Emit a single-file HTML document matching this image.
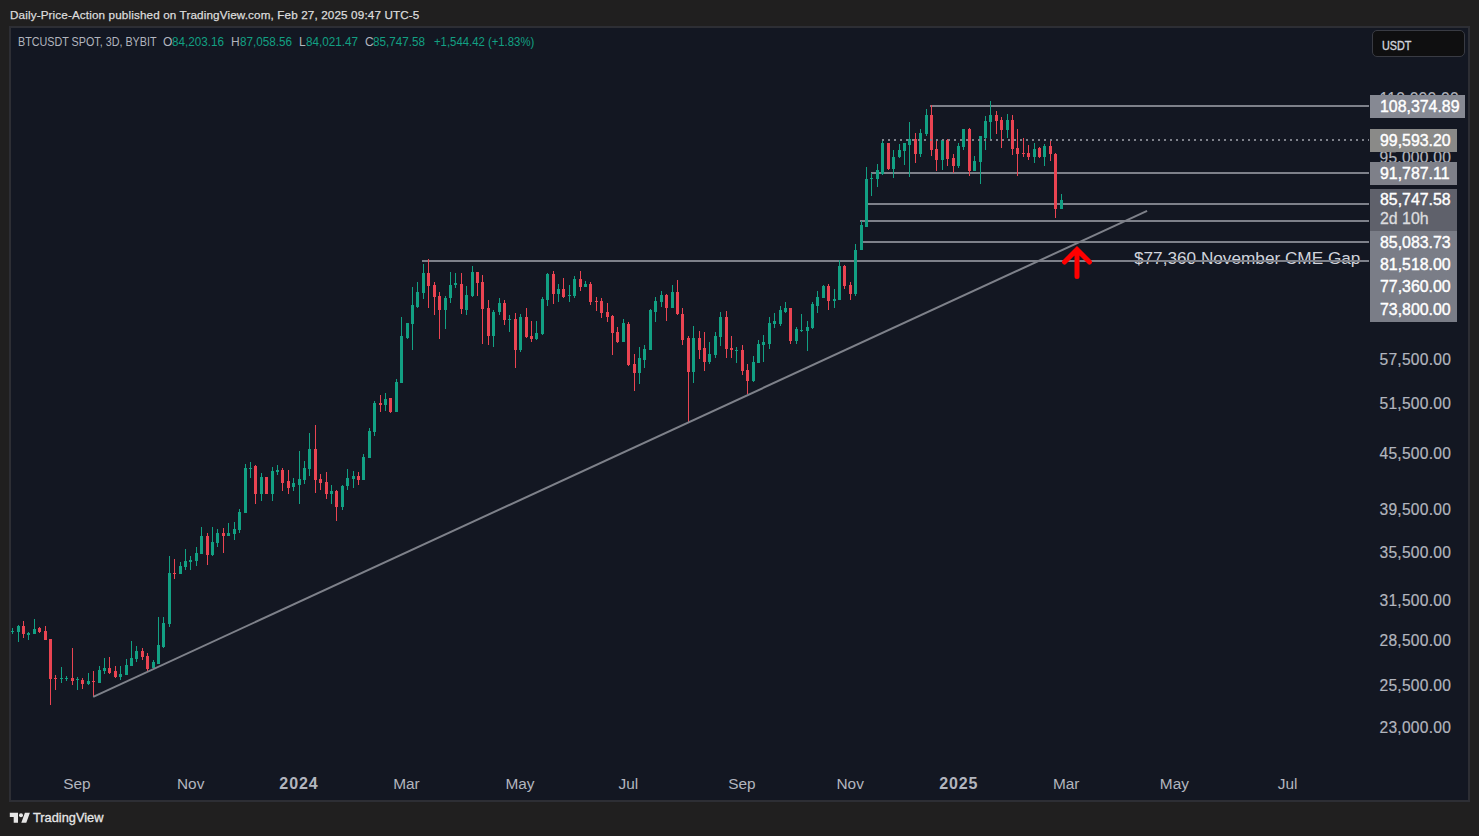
<!DOCTYPE html>
<html><head><meta charset="utf-8"><style>
html,body{margin:0;padding:0;width:1479px;height:836px;overflow:hidden;background:#201f1f;}
body{position:relative;font-family:"Liberation Sans",sans-serif;}
.abs{position:absolute;white-space:pre;}
#title{left:10px;top:7px;font-size:11.7px;letter-spacing:0.13px;color:#dcdcdc;line-height:16px;-webkit-text-stroke:0.25px #dcdcdc;}
.sym{position:absolute;top:35px;font-size:12px;line-height:14px;color:#b2b5be;white-space:pre;}
.sg{color:#12a083;}
.yl{position:absolute;left:1379.5px;font-size:15.6px;letter-spacing:0.25px;line-height:18px;color:#b2b5be;-webkit-text-stroke:0.2px #b2b5be;white-space:pre;}
.tl{position:absolute;top:775px;width:80px;text-align:center;font-size:15.4px;line-height:18px;color:#b2b5be;}
.tl.b{font-weight:bold;font-size:16px;letter-spacing:0.9px;text-indent:0.9px;}
.pl{position:absolute;left:1370px;width:87px;}
.plt{position:absolute;left:1380px;font-size:15.9px;line-height:18px;color:#fff;-webkit-text-stroke:0.4px #fff;white-space:pre;}
</style></head><body>
<svg class="abs" style="left:0;top:0" width="1479" height="836" viewBox="0 0 1479 836">
<rect x="9" y="26" width="1461" height="776" fill="#2d2e34"/>
<rect x="11" y="28" width="1457" height="772" fill="#131722"/>
<rect x="930" y="105" width="439" height="2" fill="#7e818a"/>
<rect x="871" y="172" width="498" height="2" fill="#7e818a"/>
<rect x="868" y="203" width="501" height="2" fill="#7e818a"/>
<rect x="860" y="220" width="509" height="2" fill="#7e818a"/>
<rect x="862" y="241" width="507" height="2" fill="#7e818a"/>
<rect x="422" y="260" width="947" height="2" fill="#7e818a"/>
<rect x="12" y="628" width="1" height="6" fill="#12a083"/>
<rect x="11" y="631" width="3" height="1" fill="#12a083"/>
<rect x="18" y="625" width="1" height="17" fill="#12a083"/>
<rect x="17" y="626" width="3" height="6" fill="#12a083"/>
<rect x="23" y="621" width="1" height="17" fill="#ea4452"/>
<rect x="22" y="626" width="3" height="8" fill="#ea4452"/>
<rect x="28" y="632" width="1" height="8" fill="#12a083"/>
<rect x="27" y="633" width="3" height="2" fill="#12a083"/>
<rect x="34" y="619" width="1" height="15" fill="#12a083"/>
<rect x="33" y="629" width="3" height="5" fill="#12a083"/>
<rect x="39" y="627" width="1" height="6" fill="#ea4452"/>
<rect x="38" y="628" width="3" height="4" fill="#ea4452"/>
<rect x="45" y="626" width="1" height="14" fill="#ea4452"/>
<rect x="44" y="631" width="3" height="9" fill="#ea4452"/>
<rect x="50" y="639" width="1" height="66" fill="#ea4452"/>
<rect x="49" y="639" width="3" height="40" fill="#ea4452"/>
<rect x="55" y="675" width="1" height="15" fill="#ea4452"/>
<rect x="54" y="678" width="3" height="1" fill="#ea4452"/>
<rect x="61" y="667" width="1" height="16" fill="#12a083"/>
<rect x="60" y="678" width="3" height="1" fill="#12a083"/>
<rect x="66" y="676" width="1" height="5" fill="#12a083"/>
<rect x="65" y="678" width="3" height="1" fill="#12a083"/>
<rect x="72" y="648" width="1" height="37" fill="#ea4452"/>
<rect x="71" y="678" width="3" height="3" fill="#ea4452"/>
<rect x="77" y="677" width="1" height="13" fill="#12a083"/>
<rect x="76" y="679" width="3" height="1" fill="#12a083"/>
<rect x="82" y="678" width="1" height="11" fill="#ea4452"/>
<rect x="81" y="680" width="3" height="4" fill="#ea4452"/>
<rect x="88" y="673" width="1" height="12" fill="#12a083"/>
<rect x="87" y="681" width="3" height="3" fill="#12a083"/>
<rect x="93" y="671" width="1" height="26" fill="#ea4452"/>
<rect x="92" y="681" width="3" height="1" fill="#ea4452"/>
<rect x="99" y="666" width="1" height="17" fill="#12a083"/>
<rect x="98" y="670" width="3" height="13" fill="#12a083"/>
<rect x="104" y="658" width="1" height="16" fill="#12a083"/>
<rect x="103" y="668" width="3" height="3" fill="#12a083"/>
<rect x="109" y="657" width="1" height="17" fill="#ea4452"/>
<rect x="108" y="668" width="3" height="5" fill="#ea4452"/>
<rect x="115" y="666" width="1" height="12" fill="#ea4452"/>
<rect x="114" y="671" width="3" height="6" fill="#ea4452"/>
<rect x="120" y="666" width="1" height="14" fill="#12a083"/>
<rect x="119" y="674" width="3" height="3" fill="#12a083"/>
<rect x="126" y="659" width="1" height="16" fill="#12a083"/>
<rect x="125" y="665" width="3" height="10" fill="#12a083"/>
<rect x="131" y="641" width="1" height="25" fill="#12a083"/>
<rect x="130" y="658" width="3" height="8" fill="#12a083"/>
<rect x="136" y="646" width="1" height="16" fill="#12a083"/>
<rect x="135" y="651" width="3" height="8" fill="#12a083"/>
<rect x="142" y="648" width="1" height="12" fill="#ea4452"/>
<rect x="141" y="651" width="3" height="6" fill="#ea4452"/>
<rect x="147" y="653" width="1" height="18" fill="#ea4452"/>
<rect x="146" y="656" width="3" height="13" fill="#ea4452"/>
<rect x="153" y="660" width="1" height="8" fill="#12a083"/>
<rect x="152" y="662" width="3" height="6" fill="#12a083"/>
<rect x="158" y="617" width="1" height="47" fill="#12a083"/>
<rect x="157" y="645" width="3" height="19" fill="#12a083"/>
<rect x="163" y="617" width="1" height="31" fill="#12a083"/>
<rect x="162" y="623" width="3" height="24" fill="#12a083"/>
<rect x="169" y="556" width="1" height="71" fill="#12a083"/>
<rect x="168" y="573" width="3" height="51" fill="#12a083"/>
<rect x="174" y="559" width="1" height="20" fill="#ea4452"/>
<rect x="173" y="573" width="3" height="1" fill="#ea4452"/>
<rect x="180" y="562" width="1" height="12" fill="#12a083"/>
<rect x="179" y="566" width="3" height="8" fill="#12a083"/>
<rect x="185" y="549" width="1" height="21" fill="#12a083"/>
<rect x="184" y="561" width="3" height="6" fill="#12a083"/>
<rect x="190" y="556" width="1" height="14" fill="#12a083"/>
<rect x="189" y="560" width="3" height="2" fill="#12a083"/>
<rect x="196" y="547" width="1" height="19" fill="#12a083"/>
<rect x="195" y="553" width="3" height="8" fill="#12a083"/>
<rect x="201" y="527" width="1" height="27" fill="#12a083"/>
<rect x="200" y="536" width="3" height="18" fill="#12a083"/>
<rect x="207" y="533" width="1" height="32" fill="#ea4452"/>
<rect x="206" y="536" width="3" height="19" fill="#ea4452"/>
<rect x="212" y="527" width="1" height="29" fill="#12a083"/>
<rect x="211" y="542" width="3" height="13" fill="#12a083"/>
<rect x="217" y="529" width="1" height="18" fill="#12a083"/>
<rect x="216" y="533" width="3" height="10" fill="#12a083"/>
<rect x="223" y="528" width="1" height="25" fill="#ea4452"/>
<rect x="222" y="533" width="3" height="3" fill="#ea4452"/>
<rect x="228" y="523" width="1" height="13" fill="#12a083"/>
<rect x="227" y="533" width="3" height="3" fill="#12a083"/>
<rect x="234" y="522" width="1" height="18" fill="#12a083"/>
<rect x="233" y="529" width="3" height="5" fill="#12a083"/>
<rect x="239" y="509" width="1" height="24" fill="#12a083"/>
<rect x="238" y="512" width="3" height="18" fill="#12a083"/>
<rect x="245" y="464" width="1" height="49" fill="#12a083"/>
<rect x="244" y="468" width="3" height="45" fill="#12a083"/>
<rect x="250" y="462" width="1" height="16" fill="#12a083"/>
<rect x="249" y="468" width="3" height="1" fill="#12a083"/>
<rect x="255" y="465" width="1" height="39" fill="#ea4452"/>
<rect x="254" y="466" width="3" height="28" fill="#ea4452"/>
<rect x="261" y="473" width="1" height="28" fill="#12a083"/>
<rect x="260" y="477" width="3" height="17" fill="#12a083"/>
<rect x="266" y="477" width="1" height="17" fill="#ea4452"/>
<rect x="265" y="477" width="3" height="17" fill="#ea4452"/>
<rect x="272" y="467" width="1" height="34" fill="#12a083"/>
<rect x="271" y="471" width="3" height="23" fill="#12a083"/>
<rect x="277" y="465" width="1" height="10" fill="#12a083"/>
<rect x="276" y="470" width="3" height="2" fill="#12a083"/>
<rect x="282" y="468" width="1" height="23" fill="#ea4452"/>
<rect x="281" y="470" width="3" height="13" fill="#ea4452"/>
<rect x="288" y="470" width="1" height="24" fill="#ea4452"/>
<rect x="287" y="481" width="3" height="7" fill="#ea4452"/>
<rect x="293" y="478" width="1" height="13" fill="#12a083"/>
<rect x="292" y="483" width="3" height="4" fill="#12a083"/>
<rect x="299" y="451" width="1" height="53" fill="#12a083"/>
<rect x="298" y="479" width="3" height="6" fill="#12a083"/>
<rect x="304" y="461" width="1" height="23" fill="#12a083"/>
<rect x="303" y="468" width="3" height="12" fill="#12a083"/>
<rect x="309" y="433" width="1" height="43" fill="#12a083"/>
<rect x="308" y="449" width="3" height="20" fill="#12a083"/>
<rect x="315" y="425" width="1" height="68" fill="#ea4452"/>
<rect x="314" y="449" width="3" height="31" fill="#ea4452"/>
<rect x="320" y="474" width="1" height="16" fill="#ea4452"/>
<rect x="319" y="479" width="3" height="4" fill="#ea4452"/>
<rect x="326" y="472" width="1" height="27" fill="#ea4452"/>
<rect x="325" y="482" width="3" height="12" fill="#ea4452"/>
<rect x="331" y="485" width="1" height="19" fill="#12a083"/>
<rect x="330" y="491" width="3" height="3" fill="#12a083"/>
<rect x="336" y="490" width="1" height="31" fill="#ea4452"/>
<rect x="335" y="491" width="3" height="16" fill="#ea4452"/>
<rect x="342" y="485" width="1" height="25" fill="#12a083"/>
<rect x="341" y="486" width="3" height="21" fill="#12a083"/>
<rect x="347" y="469" width="1" height="21" fill="#12a083"/>
<rect x="346" y="478" width="3" height="8" fill="#12a083"/>
<rect x="353" y="471" width="1" height="17" fill="#12a083"/>
<rect x="352" y="476" width="3" height="3" fill="#12a083"/>
<rect x="358" y="472" width="1" height="13" fill="#ea4452"/>
<rect x="357" y="476" width="3" height="4" fill="#ea4452"/>
<rect x="363" y="454" width="1" height="26" fill="#12a083"/>
<rect x="362" y="457" width="3" height="23" fill="#12a083"/>
<rect x="369" y="428" width="1" height="30" fill="#12a083"/>
<rect x="368" y="431" width="3" height="27" fill="#12a083"/>
<rect x="374" y="401" width="1" height="35" fill="#12a083"/>
<rect x="373" y="403" width="3" height="29" fill="#12a083"/>
<rect x="380" y="395" width="1" height="17" fill="#ea4452"/>
<rect x="379" y="403" width="3" height="2" fill="#ea4452"/>
<rect x="385" y="393" width="1" height="18" fill="#12a083"/>
<rect x="384" y="399" width="3" height="6" fill="#12a083"/>
<rect x="390" y="398" width="1" height="15" fill="#ea4452"/>
<rect x="389" y="398" width="3" height="14" fill="#ea4452"/>
<rect x="396" y="379" width="1" height="33" fill="#12a083"/>
<rect x="395" y="382" width="3" height="30" fill="#12a083"/>
<rect x="401" y="317" width="1" height="66" fill="#12a083"/>
<rect x="400" y="336" width="3" height="47" fill="#12a083"/>
<rect x="407" y="323" width="1" height="16" fill="#12a083"/>
<rect x="406" y="323" width="3" height="15" fill="#12a083"/>
<rect x="412" y="287" width="1" height="63" fill="#12a083"/>
<rect x="411" y="305" width="3" height="19" fill="#12a083"/>
<rect x="417" y="282" width="1" height="26" fill="#12a083"/>
<rect x="416" y="292" width="3" height="15" fill="#12a083"/>
<rect x="423" y="264" width="1" height="35" fill="#12a083"/>
<rect x="422" y="273" width="3" height="20" fill="#12a083"/>
<rect x="428" y="259" width="1" height="49" fill="#ea4452"/>
<rect x="427" y="273" width="3" height="13" fill="#ea4452"/>
<rect x="434" y="282" width="1" height="33" fill="#ea4452"/>
<rect x="433" y="285" width="3" height="12" fill="#ea4452"/>
<rect x="439" y="292" width="1" height="47" fill="#ea4452"/>
<rect x="438" y="296" width="3" height="14" fill="#ea4452"/>
<rect x="445" y="296" width="1" height="33" fill="#12a083"/>
<rect x="444" y="298" width="3" height="12" fill="#12a083"/>
<rect x="450" y="272" width="1" height="31" fill="#12a083"/>
<rect x="449" y="285" width="3" height="13" fill="#12a083"/>
<rect x="455" y="273" width="1" height="15" fill="#12a083"/>
<rect x="454" y="283" width="3" height="2" fill="#12a083"/>
<rect x="461" y="273" width="1" height="41" fill="#ea4452"/>
<rect x="460" y="284" width="3" height="25" fill="#ea4452"/>
<rect x="466" y="286" width="1" height="29" fill="#12a083"/>
<rect x="465" y="295" width="3" height="15" fill="#12a083"/>
<rect x="472" y="266" width="1" height="31" fill="#12a083"/>
<rect x="471" y="272" width="3" height="24" fill="#12a083"/>
<rect x="477" y="272" width="1" height="24" fill="#ea4452"/>
<rect x="476" y="272" width="3" height="11" fill="#ea4452"/>
<rect x="482" y="275" width="1" height="69" fill="#ea4452"/>
<rect x="481" y="282" width="3" height="27" fill="#ea4452"/>
<rect x="488" y="300" width="1" height="45" fill="#ea4452"/>
<rect x="487" y="308" width="3" height="28" fill="#ea4452"/>
<rect x="493" y="310" width="1" height="37" fill="#12a083"/>
<rect x="492" y="312" width="3" height="24" fill="#12a083"/>
<rect x="499" y="298" width="1" height="17" fill="#12a083"/>
<rect x="498" y="303" width="3" height="9" fill="#12a083"/>
<rect x="504" y="300" width="1" height="25" fill="#ea4452"/>
<rect x="503" y="303" width="3" height="17" fill="#ea4452"/>
<rect x="509" y="315" width="1" height="17" fill="#12a083"/>
<rect x="508" y="319" width="3" height="1" fill="#12a083"/>
<rect x="515" y="313" width="1" height="55" fill="#ea4452"/>
<rect x="514" y="319" width="3" height="31" fill="#ea4452"/>
<rect x="520" y="314" width="1" height="38" fill="#12a083"/>
<rect x="519" y="317" width="3" height="33" fill="#12a083"/>
<rect x="526" y="308" width="1" height="30" fill="#ea4452"/>
<rect x="525" y="317" width="3" height="20" fill="#ea4452"/>
<rect x="531" y="321" width="1" height="21" fill="#ea4452"/>
<rect x="530" y="336" width="3" height="3" fill="#ea4452"/>
<rect x="536" y="321" width="1" height="19" fill="#12a083"/>
<rect x="535" y="333" width="3" height="6" fill="#12a083"/>
<rect x="542" y="297" width="1" height="38" fill="#12a083"/>
<rect x="541" y="299" width="3" height="35" fill="#12a083"/>
<rect x="547" y="273" width="1" height="33" fill="#12a083"/>
<rect x="546" y="274" width="3" height="26" fill="#12a083"/>
<rect x="553" y="271" width="1" height="33" fill="#ea4452"/>
<rect x="552" y="274" width="3" height="20" fill="#ea4452"/>
<rect x="558" y="284" width="1" height="18" fill="#12a083"/>
<rect x="557" y="289" width="3" height="5" fill="#12a083"/>
<rect x="563" y="278" width="1" height="20" fill="#ea4452"/>
<rect x="562" y="289" width="3" height="8" fill="#ea4452"/>
<rect x="569" y="285" width="1" height="17" fill="#12a083"/>
<rect x="568" y="295" width="3" height="1" fill="#12a083"/>
<rect x="574" y="276" width="1" height="22" fill="#12a083"/>
<rect x="573" y="279" width="3" height="17" fill="#12a083"/>
<rect x="580" y="271" width="1" height="20" fill="#ea4452"/>
<rect x="579" y="279" width="3" height="8" fill="#ea4452"/>
<rect x="585" y="281" width="1" height="6" fill="#12a083"/>
<rect x="584" y="284" width="3" height="3" fill="#12a083"/>
<rect x="590" y="282" width="1" height="23" fill="#ea4452"/>
<rect x="589" y="284" width="3" height="18" fill="#ea4452"/>
<rect x="596" y="297" width="1" height="14" fill="#ea4452"/>
<rect x="595" y="301" width="3" height="1" fill="#ea4452"/>
<rect x="601" y="298" width="1" height="20" fill="#ea4452"/>
<rect x="600" y="301" width="3" height="12" fill="#ea4452"/>
<rect x="607" y="303" width="1" height="19" fill="#ea4452"/>
<rect x="606" y="312" width="3" height="5" fill="#ea4452"/>
<rect x="612" y="315" width="1" height="40" fill="#ea4452"/>
<rect x="611" y="316" width="3" height="17" fill="#ea4452"/>
<rect x="617" y="327" width="1" height="16" fill="#ea4452"/>
<rect x="616" y="332" width="3" height="10" fill="#ea4452"/>
<rect x="623" y="319" width="1" height="23" fill="#12a083"/>
<rect x="622" y="323" width="3" height="19" fill="#12a083"/>
<rect x="628" y="322" width="1" height="44" fill="#ea4452"/>
<rect x="627" y="324" width="3" height="41" fill="#ea4452"/>
<rect x="634" y="354" width="1" height="37" fill="#ea4452"/>
<rect x="633" y="364" width="3" height="9" fill="#ea4452"/>
<rect x="639" y="347" width="1" height="37" fill="#12a083"/>
<rect x="638" y="358" width="3" height="15" fill="#12a083"/>
<rect x="644" y="345" width="1" height="23" fill="#12a083"/>
<rect x="643" y="349" width="3" height="11" fill="#12a083"/>
<rect x="650" y="309" width="1" height="41" fill="#12a083"/>
<rect x="649" y="310" width="3" height="40" fill="#12a083"/>
<rect x="655" y="297" width="1" height="25" fill="#12a083"/>
<rect x="654" y="301" width="3" height="11" fill="#12a083"/>
<rect x="661" y="291" width="1" height="16" fill="#12a083"/>
<rect x="660" y="295" width="3" height="7" fill="#12a083"/>
<rect x="666" y="294" width="1" height="27" fill="#ea4452"/>
<rect x="665" y="295" width="3" height="13" fill="#ea4452"/>
<rect x="672" y="285" width="1" height="23" fill="#12a083"/>
<rect x="671" y="292" width="3" height="16" fill="#12a083"/>
<rect x="677" y="280" width="1" height="35" fill="#ea4452"/>
<rect x="676" y="292" width="3" height="22" fill="#ea4452"/>
<rect x="682" y="308" width="1" height="37" fill="#ea4452"/>
<rect x="681" y="314" width="3" height="26" fill="#ea4452"/>
<rect x="688" y="336" width="1" height="87" fill="#ea4452"/>
<rect x="687" y="338" width="3" height="34" fill="#ea4452"/>
<rect x="693" y="326" width="1" height="57" fill="#12a083"/>
<rect x="692" y="338" width="3" height="34" fill="#12a083"/>
<rect x="699" y="331" width="1" height="28" fill="#ea4452"/>
<rect x="698" y="338" width="3" height="12" fill="#ea4452"/>
<rect x="704" y="332" width="1" height="39" fill="#ea4452"/>
<rect x="703" y="348" width="3" height="14" fill="#ea4452"/>
<rect x="709" y="342" width="1" height="22" fill="#12a083"/>
<rect x="708" y="354" width="3" height="8" fill="#12a083"/>
<rect x="715" y="332" width="1" height="26" fill="#12a083"/>
<rect x="714" y="336" width="3" height="19" fill="#12a083"/>
<rect x="720" y="312" width="1" height="34" fill="#12a083"/>
<rect x="719" y="317" width="3" height="20" fill="#12a083"/>
<rect x="726" y="311" width="1" height="47" fill="#ea4452"/>
<rect x="725" y="317" width="3" height="32" fill="#ea4452"/>
<rect x="731" y="336" width="1" height="22" fill="#ea4452"/>
<rect x="730" y="348" width="3" height="2" fill="#ea4452"/>
<rect x="736" y="347" width="1" height="16" fill="#12a083"/>
<rect x="735" y="350" width="3" height="1" fill="#12a083"/>
<rect x="742" y="345" width="1" height="30" fill="#ea4452"/>
<rect x="741" y="350" width="3" height="21" fill="#ea4452"/>
<rect x="747" y="364" width="1" height="30" fill="#ea4452"/>
<rect x="746" y="370" width="3" height="11" fill="#ea4452"/>
<rect x="753" y="356" width="1" height="26" fill="#12a083"/>
<rect x="752" y="362" width="3" height="19" fill="#12a083"/>
<rect x="758" y="340" width="1" height="23" fill="#12a083"/>
<rect x="757" y="344" width="3" height="19" fill="#12a083"/>
<rect x="763" y="335" width="1" height="27" fill="#12a083"/>
<rect x="762" y="342" width="3" height="3" fill="#12a083"/>
<rect x="769" y="317" width="1" height="32" fill="#12a083"/>
<rect x="768" y="323" width="3" height="21" fill="#12a083"/>
<rect x="774" y="313" width="1" height="15" fill="#12a083"/>
<rect x="773" y="321" width="3" height="3" fill="#12a083"/>
<rect x="780" y="306" width="1" height="20" fill="#12a083"/>
<rect x="779" y="310" width="3" height="14" fill="#12a083"/>
<rect x="785" y="302" width="1" height="11" fill="#12a083"/>
<rect x="784" y="308" width="3" height="4" fill="#12a083"/>
<rect x="790" y="308" width="1" height="36" fill="#ea4452"/>
<rect x="789" y="308" width="3" height="33" fill="#ea4452"/>
<rect x="796" y="327" width="1" height="17" fill="#12a083"/>
<rect x="795" y="329" width="3" height="12" fill="#12a083"/>
<rect x="801" y="314" width="1" height="18" fill="#12a083"/>
<rect x="800" y="330" width="3" height="1" fill="#12a083"/>
<rect x="807" y="321" width="1" height="30" fill="#12a083"/>
<rect x="806" y="327" width="3" height="4" fill="#12a083"/>
<rect x="812" y="302" width="1" height="27" fill="#12a083"/>
<rect x="811" y="304" width="3" height="24" fill="#12a083"/>
<rect x="817" y="291" width="1" height="22" fill="#12a083"/>
<rect x="816" y="297" width="3" height="9" fill="#12a083"/>
<rect x="823" y="285" width="1" height="13" fill="#12a083"/>
<rect x="822" y="286" width="3" height="12" fill="#12a083"/>
<rect x="828" y="284" width="1" height="26" fill="#ea4452"/>
<rect x="827" y="286" width="3" height="15" fill="#ea4452"/>
<rect x="834" y="289" width="1" height="19" fill="#12a083"/>
<rect x="833" y="299" width="3" height="2" fill="#12a083"/>
<rect x="839" y="260" width="1" height="40" fill="#12a083"/>
<rect x="838" y="266" width="3" height="34" fill="#12a083"/>
<rect x="844" y="265" width="1" height="24" fill="#ea4452"/>
<rect x="843" y="266" width="3" height="20" fill="#ea4452"/>
<rect x="850" y="282" width="1" height="18" fill="#ea4452"/>
<rect x="849" y="285" width="3" height="9" fill="#ea4452"/>
<rect x="855" y="244" width="1" height="52" fill="#12a083"/>
<rect x="854" y="250" width="3" height="44" fill="#12a083"/>
<rect x="861" y="221" width="1" height="29" fill="#12a083"/>
<rect x="860" y="225" width="3" height="25" fill="#12a083"/>
<rect x="866" y="167" width="1" height="60" fill="#12a083"/>
<rect x="865" y="179" width="3" height="48" fill="#12a083"/>
<rect x="871" y="173" width="1" height="23" fill="#12a083"/>
<rect x="870" y="178" width="3" height="1" fill="#12a083"/>
<rect x="877" y="164" width="1" height="23" fill="#12a083"/>
<rect x="876" y="170" width="3" height="9" fill="#12a083"/>
<rect x="882" y="140" width="1" height="35" fill="#12a083"/>
<rect x="881" y="143" width="3" height="31" fill="#12a083"/>
<rect x="888" y="143" width="1" height="27" fill="#ea4452"/>
<rect x="887" y="143" width="3" height="26" fill="#ea4452"/>
<rect x="893" y="150" width="1" height="28" fill="#12a083"/>
<rect x="892" y="157" width="3" height="12" fill="#12a083"/>
<rect x="899" y="144" width="1" height="14" fill="#12a083"/>
<rect x="898" y="150" width="3" height="7" fill="#12a083"/>
<rect x="904" y="143" width="1" height="22" fill="#12a083"/>
<rect x="903" y="143" width="3" height="8" fill="#12a083"/>
<rect x="909" y="122" width="1" height="55" fill="#12a083"/>
<rect x="908" y="139" width="3" height="6" fill="#12a083"/>
<rect x="915" y="133" width="1" height="30" fill="#ea4452"/>
<rect x="914" y="139" width="3" height="15" fill="#ea4452"/>
<rect x="920" y="129" width="1" height="28" fill="#12a083"/>
<rect x="919" y="133" width="3" height="21" fill="#12a083"/>
<rect x="926" y="109" width="1" height="27" fill="#12a083"/>
<rect x="925" y="115" width="3" height="19" fill="#12a083"/>
<rect x="931" y="105" width="1" height="51" fill="#ea4452"/>
<rect x="930" y="115" width="3" height="35" fill="#ea4452"/>
<rect x="936" y="140" width="1" height="31" fill="#ea4452"/>
<rect x="935" y="149" width="3" height="11" fill="#ea4452"/>
<rect x="942" y="139" width="1" height="31" fill="#12a083"/>
<rect x="941" y="140" width="3" height="20" fill="#12a083"/>
<rect x="947" y="139" width="1" height="27" fill="#ea4452"/>
<rect x="946" y="140" width="3" height="19" fill="#ea4452"/>
<rect x="953" y="154" width="1" height="19" fill="#ea4452"/>
<rect x="952" y="158" width="3" height="8" fill="#ea4452"/>
<rect x="958" y="143" width="1" height="25" fill="#12a083"/>
<rect x="957" y="146" width="3" height="20" fill="#12a083"/>
<rect x="963" y="129" width="1" height="21" fill="#12a083"/>
<rect x="962" y="129" width="3" height="18" fill="#12a083"/>
<rect x="969" y="128" width="1" height="48" fill="#ea4452"/>
<rect x="968" y="129" width="3" height="42" fill="#ea4452"/>
<rect x="974" y="156" width="1" height="15" fill="#12a083"/>
<rect x="973" y="161" width="3" height="10" fill="#12a083"/>
<rect x="980" y="136" width="1" height="48" fill="#12a083"/>
<rect x="979" y="136" width="3" height="26" fill="#12a083"/>
<rect x="985" y="116" width="1" height="34" fill="#12a083"/>
<rect x="984" y="121" width="3" height="17" fill="#12a083"/>
<rect x="990" y="101" width="1" height="39" fill="#12a083"/>
<rect x="989" y="115" width="3" height="7" fill="#12a083"/>
<rect x="996" y="111" width="1" height="23" fill="#ea4452"/>
<rect x="995" y="115" width="3" height="6" fill="#ea4452"/>
<rect x="1001" y="117" width="1" height="31" fill="#ea4452"/>
<rect x="1000" y="120" width="3" height="10" fill="#ea4452"/>
<rect x="1007" y="114" width="1" height="24" fill="#12a083"/>
<rect x="1006" y="120" width="3" height="10" fill="#12a083"/>
<rect x="1012" y="115" width="1" height="40" fill="#ea4452"/>
<rect x="1011" y="120" width="3" height="29" fill="#ea4452"/>
<rect x="1017" y="129" width="1" height="47" fill="#ea4452"/>
<rect x="1016" y="148" width="3" height="6" fill="#ea4452"/>
<rect x="1023" y="138" width="1" height="19" fill="#ea4452"/>
<rect x="1022" y="153" width="3" height="1" fill="#ea4452"/>
<rect x="1028" y="145" width="1" height="15" fill="#ea4452"/>
<rect x="1027" y="153" width="3" height="4" fill="#ea4452"/>
<rect x="1034" y="143" width="1" height="20" fill="#12a083"/>
<rect x="1033" y="149" width="3" height="8" fill="#12a083"/>
<rect x="1039" y="147" width="1" height="11" fill="#ea4452"/>
<rect x="1038" y="148" width="3" height="9" fill="#ea4452"/>
<rect x="1044" y="144" width="1" height="22" fill="#12a083"/>
<rect x="1043" y="146" width="3" height="11" fill="#12a083"/>
<rect x="1050" y="139" width="1" height="22" fill="#ea4452"/>
<rect x="1049" y="146" width="3" height="8" fill="#ea4452"/>
<rect x="1055" y="153" width="1" height="65" fill="#ea4452"/>
<rect x="1054" y="154" width="3" height="55" fill="#ea4452"/>
<rect x="1061" y="194" width="1" height="15" fill="#12a083"/>
<rect x="1060" y="200" width="3" height="9" fill="#12a083"/>
<line x1="882" y1="140" x2="1369" y2="140" stroke="#7e818a" stroke-width="2" stroke-dasharray="2 4"/>
<line x1="93.2" y1="696.8" x2="1147.1" y2="210.9" stroke="#7e818a" stroke-width="2"/>
<path d="M1064.5 262 L1077 249.5 L1089.5 262 M1077 251 L1077 276.5" stroke="#ff0000" stroke-width="5" fill="none" stroke-linecap="round" stroke-linejoin="miter"/>
</svg>
<div id="title" class="abs">Daily-Price-Action published on TradingView.com, Feb 27, 2025 09:47 UTC-5</div>
<div class="sym" style="left:18px;font-size:12.3px;transform:scaleX(0.875);transform-origin:0 0">BTCUSDT SPOT, 3D, BYBIT</div>
<div class="sym" style="left:163px">O</div><div class="sym sg" style="left:171.5px;transform:scaleX(0.975);transform-origin:0 0">84,203.16</div>
<div class="sym" style="left:231px">H</div><div class="sym sg" style="left:239.5px;transform:scaleX(0.975);transform-origin:0 0">87,058.56</div>
<div class="sym" style="left:299px">L</div><div class="sym sg" style="left:306px;transform:scaleX(0.975);transform-origin:0 0">84,021.47</div>
<div class="sym" style="left:365px">C</div><div class="sym sg" style="left:373px;transform:scaleX(0.975);transform-origin:0 0">85,747.58</div>
<div class="sym sg" style="left:433.5px;transform:scaleX(0.945);transform-origin:0 0">+1,544.42 (+1.83%)</div>
<div class="abs" style="left:1372px;top:30px;width:91px;height:25px;border:1.5px solid #393b43;border-radius:5px;background:#0f0f10;"></div>
<div class="abs" style="left:1382px;top:38.5px;font-size:12px;line-height:14px;color:#d1d4dc;-webkit-text-stroke:0.35px #d1d4dc;transform:scaleX(0.9);transform-origin:0 0">USDT</div>
<div class="yl" style="top:90.0px">110,000.00</div>
<div class="yl" style="top:149.0px">95,000.00</div>
<div class="yl" style="top:350.5px">57,500.00</div>
<div class="yl" style="top:394.9px">51,500.00</div>
<div class="yl" style="top:444.5px">45,500.00</div>
<div class="yl" style="top:501.3px">39,500.00</div>
<div class="yl" style="top:544.2px">35,500.00</div>
<div class="yl" style="top:592.2px">31,500.00</div>
<div class="yl" style="top:632.4px">28,500.00</div>
<div class="yl" style="top:677.1px">25,500.00</div>
<div class="yl" style="top:718.5px">23,000.00</div>
<div class="pl abs" style="top:95px;height:23px;width:95px;background:#868993"></div>
<div class="pl abs" style="top:129px;height:23px;background:#8a8a88"></div>
<div class="pl abs" style="top:162px;height:23px;background:#7e8089"></div>
<div class="pl abs" style="top:189px;height:42px;background:#5f616b"></div>
<div class="pl abs" style="top:231px;height:91px;background:#7a7d87"></div>
<div class="plt" style="top:97.5px">108,374.89</div>
<div class="plt" style="top:131.5px">99,593.20</div>
<div class="plt" style="top:164.5px">91,787.11</div>
<div class="plt" style="top:191.2px">85,747.58</div>
<div class="plt" style="top:209.7px;font-size:15.9px;color:#dcdcdf;-webkit-text-stroke:0.3px #dcdcdf">2d 10h</div>
<div class="plt" style="top:233.5px">85,083.73</div>
<div class="plt" style="top:255.5px">81,518.00</div>
<div class="plt" style="top:278.2px">77,360.00</div>
<div class="plt" style="top:301px">73,800.00</div>
<div class="abs" style="left:1134px;top:247.5px;font-size:17.2px;line-height:20px;color:#d1d4dc;">$77,360 November CME Gap</div>
<svg class="abs" style="left:0;top:0" width="1479" height="836"><rect x="1134" y="260" width="235" height="2" fill="#7e818a"/></svg>
<div class="tl" style="left:36.9px">Sep</div>
<div class="tl" style="left:150.7px">Nov</div>
<div class="tl b" style="left:258.5px">2024</div>
<div class="tl" style="left:366.4px">Mar</div>
<div class="tl" style="left:480.0px">May</div>
<div class="tl" style="left:588.4px">Jul</div>
<div class="tl" style="left:702.0px">Sep</div>
<div class="tl" style="left:810.2px">Nov</div>
<div class="tl b" style="left:918.3px">2025</div>
<div class="tl" style="left:1026.2px">Mar</div>
<div class="tl" style="left:1134.4px">May</div>
<div class="tl" style="left:1247.7px">Jul</div>
<svg class="abs" style="left:0;top:0" width="1479" height="836"><path d="M9.8 812.8H18V822.8H13.7V817.1H9.8Z M24.9 812.8H29.9L26.3 822.8H21.3Z" fill="#e6e6e6"/><circle cx="21" cy="815.2" r="2" fill="#e6e6e6"/></svg>
<div class="abs" style="left:33px;top:810px;font-size:12.8px;line-height:15px;color:#e6e6e6;-webkit-text-stroke:0.3px #e6e6e6;">TradingView</div>
</body></html>
